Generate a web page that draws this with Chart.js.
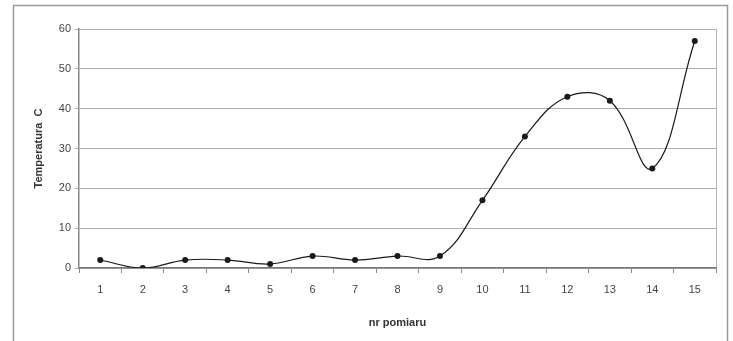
<!DOCTYPE html>
<html>
<head>
<meta charset="utf-8">
<script src="https://cdn.jsdelivr.net/npm/chart.js@4"></script>
<style>
  html, body { margin: 0; padding: 0; background: #fff; }
  #wrap { width: 733px; height: 341px; }
</style>
</head>
<body>
<div id="wrap"><canvas id="temp" width="733" height="341"></canvas></div>
<script>
const pomiary = ['1', '2', '3', '4', '5', '6', '7', '8', '9', '10', '11', '12', '13', '14', '15'];
const temperatura = [2, 0, 2, 2, 1, 3, 2, 3, 3, 17, 33, 43, 42, 25, 57];
const yTicks = [0, 10, 20, 30, 40, 50, 60];

// outer frame + right edge of plot area, like the scanned Excel chart
const frame = {
    id: 'frame',
    beforeDraw(chart) {
        const c = chart.ctx;
        const a = chart.chartArea;
        c.save();
        c.strokeStyle = '#9a9a9a';
        c.lineWidth = 1.5;
        c.strokeRect(13.5, 5.5, 714, 345);
        c.strokeStyle = '#b5b5b5';
        c.lineWidth = 1;
        c.beginPath();
        c.moveTo(a.right + 0.5, a.top);
        c.lineTo(a.right + 0.5, a.bottom);
        c.stroke();
        c.restore();
    }
};

const ctx = document.getElementById('temp');
new Chart(ctx, {
    type: 'line',
    data: {
        labels: pomiary,
        datasets: [{
            label: 'Temperatura',
            data: temperatura,
            borderColor: '#1a1a1a',
            borderWidth: 1.2,
            backgroundColor: '#1a1a1a',
            pointRadius: 3,
            pointBackgroundColor: '#1a1a1a',
            pointBorderWidth: 0,
            tension: 0.4,
            fill: false
        }]
    },
    options: {
        responsive: false,
        animation: false,
        layout: { padding: { left: 28, right: 17, top: 29, bottom: 0 } },
        plugins: {
            legend: { display: false },
            tooltip: { enabled: false }
        },
        scales: {
            x: {
                offset: true,
                grid: {
                    offset: true,
                    drawOnChartArea: false,
                    drawTicks: true,
                    tickLength: 5,
                    color: '#888'
                },
                border: { color: '#777', width: 1.5 },
                ticks: {
                    color: '#444',
                    font: { family: 'Liberation Sans, Arial', size: 11 },
                    padding: 10,
                    maxRotation: 0
                },
                title: {
                    display: true,
                    text: 'nr pomiaru',
                    color: '#333',
                    font: { family: 'Liberation Sans, Arial', size: 11, weight: 'bold' },
                    padding: { top: 6, bottom: 11 }
                },
                afterFit(scale) { scale.height = 73; }
            },
            y: {
                min: 0,
                max: 60,
                afterBuildTicks(scale) {
                    scale.ticks = yTicks.map(v => ({ value: v }));
                },
                grid: {
                    color: '#b0b0b0',
                    lineWidth: 1,
                    drawTicks: true,
                    tickLength: 4
                },
                border: { color: '#888', width: 1.5 },
                ticks: {
                    color: '#444',
                    font: { family: 'Liberation Sans, Arial', size: 11 },
                    padding: 4
                },
                title: {
                    display: true,
                    text: 'Temperatura  C',
                    color: '#333',
                    font: { family: 'Liberation Sans, Arial', size: 11, weight: 'bold' },
                    padding: { top: 4, bottom: 4 }
                },
                afterFit(scale) { scale.width = 51; }
            }
        }
    },
    plugins: [frame]
});
</script>
</body>
</html>
